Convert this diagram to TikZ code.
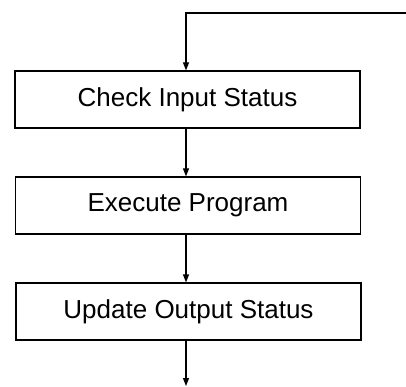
\documentclass[tikz,border=0pt]{standalone}
\usepackage{fontspec}
\setmainfont{Liberation Sans}
\usetikzlibrary{arrows.meta}
\begin{document}
\begin{tikzpicture}[x=1pt,y=-1pt,
  stepbox/.style={draw, line width=1.2pt, minimum width=345pt, minimum height=57pt, inner sep=0pt,
    font=\fontsize{26}{30}\selectfont},
  flow/.style={line width=1.2pt, -{Triangle[length=8pt,width=6pt]}}]
\useasboundingbox (0,0) rectangle (406,387);
\node[stepbox] (b1) at (187.5,99.5) {Check Input Status};
\node[stepbox] (b2) at (188,205.5) {Execute Program};
\node[stepbox] (b3) at (188.5,311.5) {Update Output Status};
\coordinate (loopR) at (406,13);
\coordinate (loopC) at (186,13);
\coordinate (endC) at (186,386);
\draw[flow] (loopR) -- (loopC) -- (loopC |- b1.north);
\draw[flow] (loopC |- b1.south) -- (loopC |- b2.north);
\draw[flow] (loopC |- b2.south) -- (loopC |- b3.north);
\draw[flow] (loopC |- b3.south) -- (endC);
\end{tikzpicture}
\end{document}
